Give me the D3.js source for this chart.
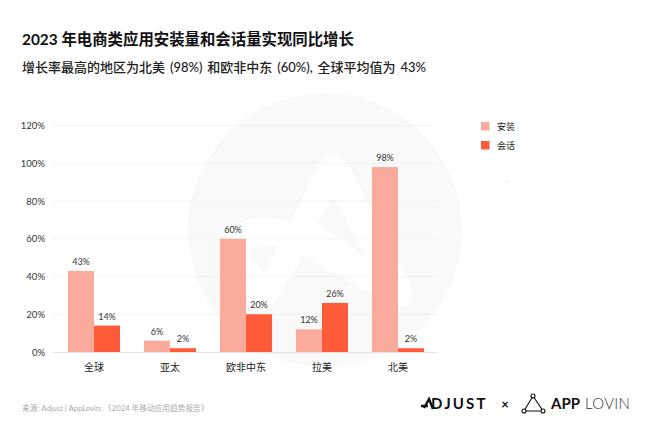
<!DOCTYPE html>
<html>
<head>
<meta charset="utf-8">
<script src="https://cdn.jsdelivr.net/npm/d3@7"></script>
<style>
  html, body { margin: 0; padding: 0; background: #fff; }
  svg { display: block; }
  text { font-family: Lato, "Noto Sans CJK SC", sans-serif; }
</style>
</head>
<body>
<div id="chart"></div>
<script>
var categories = ["全球", "亚太", "欧非中东", "拉美", "北美"];
var seriesNames = ["安装", "会话"];
var installs = [43, 6, 60, 12, 98];
var sessions = [14, 2, 20, 26, 2];
var yTicks = [0, 20, 40, 60, 80, 100, 120];
var colors = ["#fbab9b", "#ff5a3a"];

var svgWidth = 650;
var svgHeight = 434;

var svg = d3.select("#chart")
  .append("svg")
  .attr("width", svgWidth)
  .attr("height", svgHeight);

// watermark behind the chart
svg.append("circle")
  .attr("cx", 325).attr("cy", 230).attr("r", 137)
  .attr("fill", "#f9f9f9");

svg.append("path")
  .attr("fill", "#fff")
  .attr("fill-rule", "evenodd")
  .attr("d", "M319 163 Q333 147 347 163 L411 285 Q416 302 402 307 Q398 308 392 305 L303 256 L276 300 Q266 312 252 303 L234 286 Q218 262 228 238 Q240 215 268 218 Q280 219 291 222 Z"
    + " M334 197 L366 257 L317 223 Z"
    + " M248 252 Q262 243 278 247 L264 273 Z");

// scales
var x = d3.scaleBand()
  .domain(categories)
  .range([56, 436])
  .paddingInner(24 / 76)
  .paddingOuter(12 / 76);

var xSeries = d3.scaleBand()
  .domain(seriesNames)
  .range([0, x.bandwidth()]);

var y = d3.scaleLinear()
  .domain([0, 120])
  .range([352, 125.5]);

// y axis and gridlines
var yAxis = svg.append("g")
  .attr("transform", "translate(53,0)")
  .call(d3.axisLeft(y).tickValues(yTicks).tickSize(0).tickPadding(8).tickFormat(d => d + "%"));

yAxis.select(".domain").remove();
yAxis.selectAll("text")
  .attr("font-size", 9.5)
  .attr("fill", "#333")
  .style("font-family", "Lato, sans-serif");

svg.append("g")
  .selectAll("line")
  .data(yTicks.filter(d => d > 0))
  .enter()
  .append("line")
  .attr("x1", 53)
  .attr("x2", 437)
  .attr("y1", d => y(d))
  .attr("y2", d => y(d))
  .attr("stroke", "#f1f1f1")
  .attr("stroke-width", 0.8);

// bars
var series = [installs, sessions];

series.forEach(function(values, s) {
  svg.append("g")
    .selectAll("rect")
    .data(values)
    .enter()
    .append("rect")
    .attr("x", (d, i) => x(categories[i]) + xSeries(seriesNames[s]))
    .attr("y", d => y(d))
    .attr("width", xSeries.bandwidth())
    .attr("height", d => y(0) - y(d))
    .attr("fill", colors[s]);

  svg.append("g")
    .selectAll("text")
    .data(values)
    .enter()
    .append("text")
    .attr("x", (d, i) => x(categories[i]) + xSeries(seriesNames[s]) + xSeries.bandwidth() / 2)
    .attr("y", d => y(d) - 6)
    .attr("text-anchor", "middle")
    .attr("font-size", 9)
    .attr("fill", "#333")
    .text(d => d + "%");
});

// x axis
var xAxis = svg.append("g")
  .attr("transform", "translate(0,352)")
  .call(d3.axisBottom(x).tickSize(0).tickPadding(12));

xAxis.select(".domain").remove();
xAxis.selectAll("text")
  .attr("font-size", 10)
  .attr("fill", "#222")
  .style("font-family", "'Noto Sans CJK SC', sans-serif");

svg.append("line")
  .attr("x1", 53).attr("x2", 437)
  .attr("y1", 352.5).attr("y2", 352.5)
  .attr("stroke", "#e4e4e4")
  .attr("stroke-width", 1.2);

// titles
svg.append("text")
  .attr("x", 22).attr("y", 44.5)
  .attr("font-size", 15.4)
  .attr("font-weight", 700)
  .attr("fill", "#111")
  .text("2023 年电商类应用安装量和会话量实现同比增长");

svg.append("text")
  .attr("x", 22).attr("y", 72)
  .attr("font-size", 13)
  .attr("font-weight", 500)
  .attr("word-spacing", 1.6)
  .attr("fill", "#222")
  .text("增长率最高的地区为北美 (98%) 和欧非中东 (60%), 全球平均值为 43%");

// legend
var legend = svg.append("g")
  .selectAll("g")
  .data(seriesNames)
  .enter()
  .append("g")
  .attr("transform", (d, i) => `translate(481,${122 + i * 19})`);

legend.append("rect")
  .attr("width", 8.5)
  .attr("height", 8.5)
  .attr("fill", (d, i) => colors[i]);

legend.append("text")
  .attr("x", 16)
  .attr("y", 8)
  .attr("font-size", 9)
  .attr("fill", "#222")
  .text(d => d);

svg.append("circle")
  .attr("cx", 507).attr("cy", 182).attr("r", 0.5)
  .attr("fill", "#999");

// source
svg.append("text")
  .attr("x", 22).attr("y", 411)
  .attr("font-size", 7.7)
  .attr("fill", "#aaa")
  .text("来源: Adjust | AppLovin: 《2024 年移动应用趋势报告》");

// logos
var logos = svg.append("g");

logos.append("text")
  .attr("x", 431).attr("y", 409)
  .attr("font-size", 15)
  .attr("font-weight", 700)
  .attr("letter-spacing", 2.2)
  .attr("fill", "#111")
  .style("font-family", "Lato, sans-serif")
  .text("DJUST");

logos.append("path")
  .attr("d", "M421 406 L428 406 M424 408 L429 399 L433 409")
  .attr("fill", "none")
  .attr("stroke", "#111")
  .attr("stroke-width", 2.4);

logos.append("text")
  .attr("x", 505).attr("y", 409)
  .attr("text-anchor", "middle")
  .attr("font-size", 13)
  .attr("font-weight", 700)
  .attr("fill", "#111")
  .text("×");

logos.append("path")
  .attr("d", "M533 396 L524 411 L543 411 Z")
  .attr("fill", "none")
  .attr("stroke", "#111")
  .attr("stroke-width", 1.1);

logos.selectAll("circle")
  .data([[533, 396], [524, 411], [543, 411]])
  .enter()
  .append("circle")
  .attr("cx", d => d[0])
  .attr("cy", d => d[1])
  .attr("r", 2)
  .attr("fill", "#fff")
  .attr("stroke", "#111")
  .attr("stroke-width", 1.1);

logos.append("text")
  .attr("x", 551).attr("y", 409)
  .attr("font-size", 15)
  .attr("font-weight", 700)
  .attr("fill", "#111")
  .style("font-family", "Lato, sans-serif")
  .text("APP");

logos.append("text")
  .attr("x", 585).attr("y", 409)
  .attr("font-size", 15)
  .attr("font-weight", 300)
  .attr("fill", "#333")
  .attr("letter-spacing", 0.3)
  .style("font-family", "Lato, sans-serif")
  .text("LOVIN");
</script>
</body>
</html>
